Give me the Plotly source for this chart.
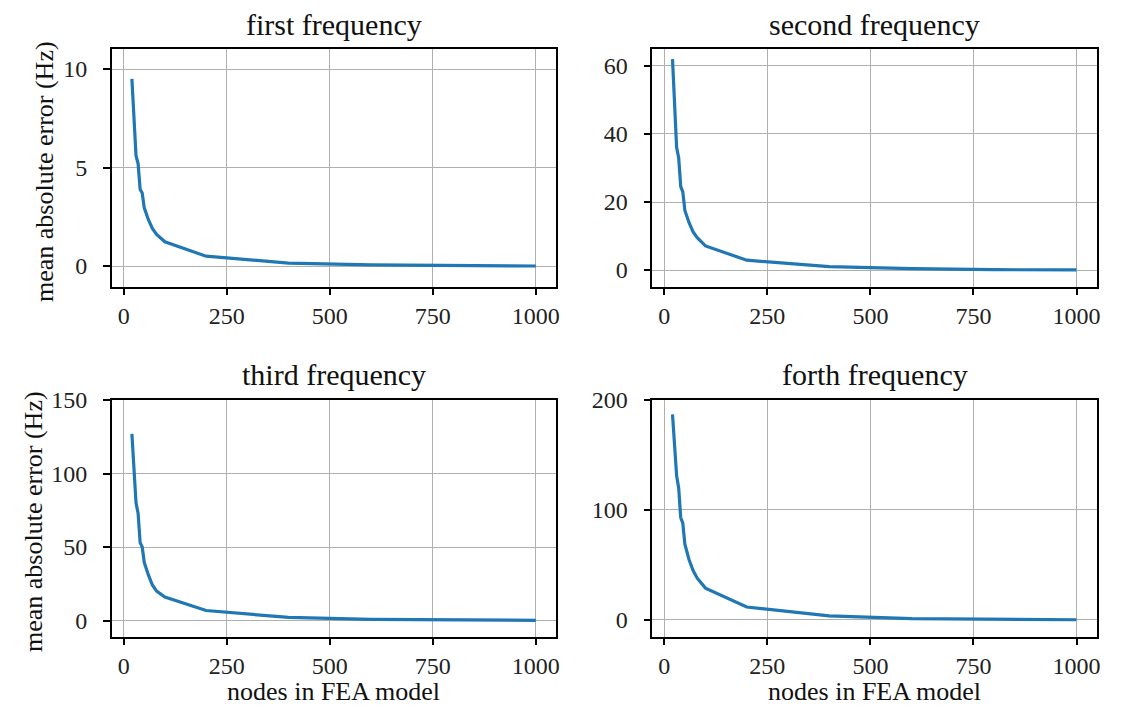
import plotly.graph_objects as go
from plotly.subplots import make_subplots

# nodes in the FEA model (x values shared by all panels)
nodes = [20, 30, 35, 40, 45, 50, 60, 70, 80, 90, 100, 200, 400, 600, 800, 1000]

# mean absolute error (Hz) per natural frequency
err_first = [9.5, 5.6, 5.2, 3.9, 3.7, 2.95, 2.35, 1.9, 1.6, 1.4, 1.23, 0.5, 0.15, 0.06, 0.02, 0.0]
err_second = [62, 36, 33, 24.5, 23, 17.5, 14, 11.2, 9.5, 8.2, 7.1, 2.9, 1.0, 0.4, 0.1, 0.05]
err_third = [127, 80, 73, 53, 50, 39.5, 31, 24, 20, 17.8, 16, 6.8, 2.1, 0.8, 0.2, 0.1]
err_forth = [187, 131, 120, 93, 88, 69, 55, 45, 38, 33, 29, 11.8, 3.8, 1.3, 0.4, 0.2]

titles = ["first frequency", "second frequency", "third frequency", "forth frequency"]
series = [err_first, err_second, err_third, err_forth]
y_ranges = [[-1.05, 11.0], [-4.9, 64.9], [-11, 150], [-15.2, 200]]
y_ticks = [[0, 5, 10], [0, 20, 40, 60], [0, 50, 100, 150], [0, 100, 200]]

W, H = 1130, 714
OFF = 8  # page body margin
FONT = "Liberation Serif, Times New Roman, serif"


def px(x):
    return (x - OFF) / W


def py(y):
    return 1 - (y - OFF) / H


# panel boxes in reference pixels
x_dom = [[px(111.7), px(556)], [px(652.3), px(1096.7)]]
y_dom = [[py(286.7), py(49.3)], [py(636.7), py(400)]]
y_top_px = [49.3, 400]
y_mid_px = [172, 522]
ylabel_x_px = [45, 33]

fig = make_subplots(rows=2, cols=2)

for i, (ys, title) in enumerate(zip(series, titles)):
    r, c = i // 2 + 1, i % 2 + 1
    fig.add_trace(go.Scatter(
        x=nodes, y=ys, mode="lines",
        line=dict(color="#1f77b4", width=3.2),
        showlegend=False
    ), row=r, col=c)

    axis_common = dict(
        showline=True, mirror=True, linecolor="black", linewidth=1.5,
        ticks="outside", ticklen=7, tickwidth=1.5, tickcolor="black",
        showgrid=True, gridcolor="#b0b0b0", gridwidth=1.2,
        zeroline=False, automargin=False,
        tickfont=dict(family=FONT, size=24, color="#222"),
    )
    fig.update_xaxes(
        range=[-29, 1049], tickvals=[0, 250, 500, 750, 1000],
        domain=x_dom[c - 1], **axis_common, row=r, col=c
    )
    fig.update_yaxes(
        range=y_ranges[i], tickvals=y_ticks[i], ticklabelstandoff=11,
        domain=y_dom[r - 1], **axis_common, row=r, col=c
    )

    cx = sum(x_dom[c - 1]) / 2
    fig.add_annotation(
        text=title, x=cx, y=py(y_top_px[r - 1] - 25), xref="paper", yref="paper",
        showarrow=False, xanchor="center", yanchor="middle",
        font=dict(family=FONT, size=30, color="#111")
    )

# axis labels: y on left column, x on bottom row
for r in range(2):
    fig.add_annotation(
        text="mean absolute error (Hz)", x=px(ylabel_x_px[r]), y=py(y_mid_px[r]),
        xref="paper", yref="paper", showarrow=False, textangle=-90,
        xanchor="center", yanchor="middle",
        font=dict(family=FONT, size=26, color="#111")
    )
for c in range(2):
    fig.add_annotation(
        text="nodes in FEA model", x=sum(x_dom[c]) / 2, y=py(691),
        xref="paper", yref="paper", showarrow=False,
        xanchor="center", yanchor="middle",
        font=dict(family=FONT, size=26, color="#111")
    )

fig.update_layout(
    width=W, height=H,
    margin=dict(l=0, r=0, t=0, b=0),
    plot_bgcolor="white", paper_bgcolor="white",
)

fig.write_html("out.html")
